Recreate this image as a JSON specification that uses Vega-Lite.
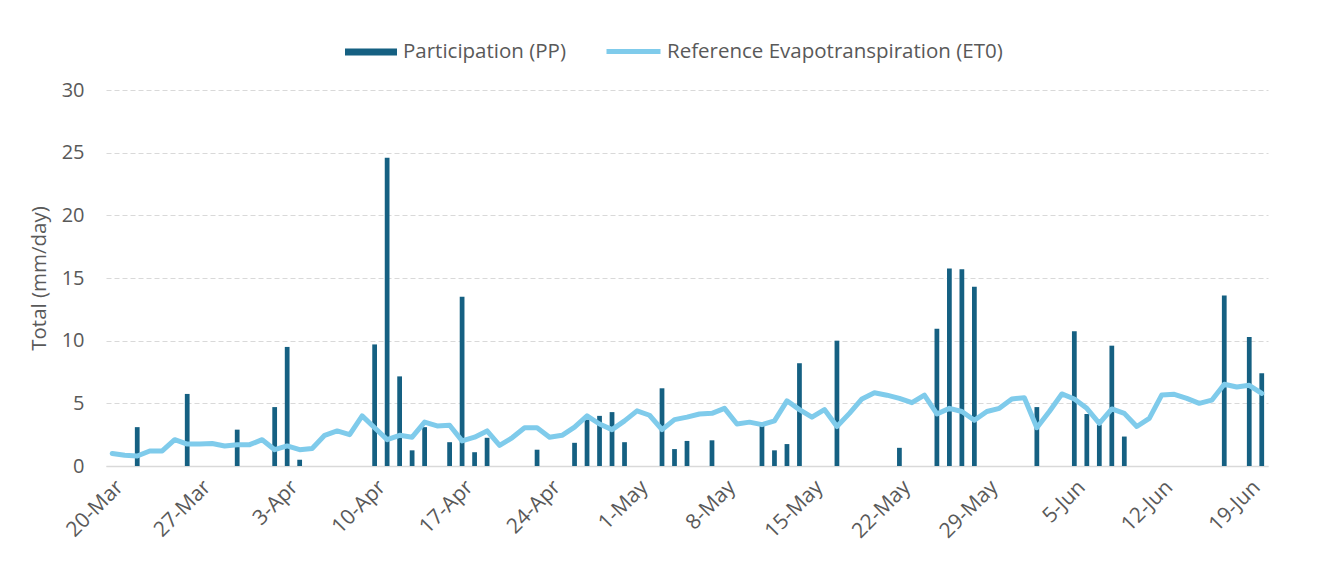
{
  "$schema": "https://vega.github.io/schema/vega-lite/v6.json",
  "width": 1162,
  "height": 376,
  "autosize": {"type": "none"},
  "padding": {"left": 106, "top": 90, "right": 62, "bottom": 102},
  "background": "white",
  "config": {
    "font": "Open Sans",
    "view": {"stroke": null},
    "axis": {"labelColor": "#595959", "titleColor": "#595959", "labelFont": "Open Sans", "titleFont": "Open Sans"},
    "legend": {"labelColor": "#595959", "labelFont": "Open Sans", "labelFontSize": 20.5, "padding": 0, "labelLimit": 0}
  },
  "data": {"values": [
    {"date": "20-Mar", "pp": 0, "et0": 1.0},
    {"date": "21-Mar", "pp": 0, "et0": 0.85},
    {"date": "22-Mar", "pp": 3.1, "et0": 0.8},
    {"date": "23-Mar", "pp": 0, "et0": 1.2},
    {"date": "24-Mar", "pp": 0, "et0": 1.2},
    {"date": "25-Mar", "pp": 0, "et0": 2.1},
    {"date": "26-Mar", "pp": 5.75, "et0": 1.75},
    {"date": "27-Mar", "pp": 0, "et0": 1.75},
    {"date": "28-Mar", "pp": 0, "et0": 1.8},
    {"date": "29-Mar", "pp": 0, "et0": 1.6},
    {"date": "30-Mar", "pp": 2.9, "et0": 1.7},
    {"date": "31-Mar", "pp": 0, "et0": 1.7},
    {"date": "1-Apr", "pp": 0, "et0": 2.1},
    {"date": "2-Apr", "pp": 4.7, "et0": 1.3},
    {"date": "3-Apr", "pp": 9.5, "et0": 1.6},
    {"date": "4-Apr", "pp": 0.5, "et0": 1.3},
    {"date": "5-Apr", "pp": 0, "et0": 1.4},
    {"date": "6-Apr", "pp": 0, "et0": 2.45},
    {"date": "7-Apr", "pp": 0, "et0": 2.8},
    {"date": "8-Apr", "pp": 0, "et0": 2.5},
    {"date": "9-Apr", "pp": 0, "et0": 4.0},
    {"date": "10-Apr", "pp": 9.7, "et0": 3.05},
    {"date": "11-Apr", "pp": 24.6, "et0": 2.1},
    {"date": "12-Apr", "pp": 7.15, "et0": 2.45},
    {"date": "13-Apr", "pp": 1.25, "et0": 2.3},
    {"date": "14-Apr", "pp": 3.1, "et0": 3.5},
    {"date": "15-Apr", "pp": 0, "et0": 3.2},
    {"date": "16-Apr", "pp": 1.9, "et0": 3.25},
    {"date": "17-Apr", "pp": 13.5, "et0": 2.0},
    {"date": "18-Apr", "pp": 1.1, "et0": 2.3},
    {"date": "19-Apr", "pp": 2.25, "et0": 2.8},
    {"date": "20-Apr", "pp": 0, "et0": 1.65},
    {"date": "21-Apr", "pp": 0, "et0": 2.25},
    {"date": "22-Apr", "pp": 0, "et0": 3.05},
    {"date": "23-Apr", "pp": 1.3, "et0": 3.05},
    {"date": "24-Apr", "pp": 0, "et0": 2.3},
    {"date": "25-Apr", "pp": 0, "et0": 2.45},
    {"date": "26-Apr", "pp": 1.85, "et0": 3.1},
    {"date": "27-Apr", "pp": 3.7, "et0": 4.0},
    {"date": "28-Apr", "pp": 4.0, "et0": 3.35},
    {"date": "29-Apr", "pp": 4.3, "et0": 2.9},
    {"date": "30-Apr", "pp": 1.9, "et0": 3.6},
    {"date": "1-May", "pp": 0, "et0": 4.4},
    {"date": "2-May", "pp": 0, "et0": 4.05},
    {"date": "3-May", "pp": 6.2, "et0": 2.9},
    {"date": "4-May", "pp": 1.35, "et0": 3.7},
    {"date": "5-May", "pp": 2.0, "et0": 3.9},
    {"date": "6-May", "pp": 0, "et0": 4.15},
    {"date": "7-May", "pp": 2.05, "et0": 4.2},
    {"date": "8-May", "pp": 0, "et0": 4.6},
    {"date": "9-May", "pp": 0, "et0": 3.35},
    {"date": "10-May", "pp": 0, "et0": 3.5},
    {"date": "11-May", "pp": 3.2, "et0": 3.3},
    {"date": "12-May", "pp": 1.25, "et0": 3.6},
    {"date": "13-May", "pp": 1.75, "et0": 5.2},
    {"date": "14-May", "pp": 8.2, "et0": 4.5},
    {"date": "15-May", "pp": 0, "et0": 3.9},
    {"date": "16-May", "pp": 0, "et0": 4.5},
    {"date": "17-May", "pp": 10.0, "et0": 3.15},
    {"date": "18-May", "pp": 0, "et0": 4.2},
    {"date": "19-May", "pp": 0, "et0": 5.35},
    {"date": "20-May", "pp": 0, "et0": 5.85},
    {"date": "21-May", "pp": 0, "et0": 5.65},
    {"date": "22-May", "pp": 1.45, "et0": 5.4},
    {"date": "23-May", "pp": 0, "et0": 5.05},
    {"date": "24-May", "pp": 0, "et0": 5.65},
    {"date": "25-May", "pp": 10.95, "et0": 4.15},
    {"date": "26-May", "pp": 15.75, "et0": 4.6},
    {"date": "27-May", "pp": 15.7, "et0": 4.35},
    {"date": "28-May", "pp": 14.3, "et0": 3.65},
    {"date": "29-May", "pp": 0, "et0": 4.35},
    {"date": "30-May", "pp": 0, "et0": 4.6},
    {"date": "31-May", "pp": 0, "et0": 5.35},
    {"date": "1-Jun", "pp": 0, "et0": 5.45},
    {"date": "2-Jun", "pp": 4.7, "et0": 3.05},
    {"date": "3-Jun", "pp": 0, "et0": 4.35},
    {"date": "4-Jun", "pp": 0, "et0": 5.75},
    {"date": "5-Jun", "pp": 10.75, "et0": 5.35},
    {"date": "6-Jun", "pp": 4.15, "et0": 4.6},
    {"date": "7-Jun", "pp": 3.3, "et0": 3.4},
    {"date": "8-Jun", "pp": 9.6, "et0": 4.55},
    {"date": "9-Jun", "pp": 2.35, "et0": 4.2},
    {"date": "10-Jun", "pp": 0, "et0": 3.15},
    {"date": "11-Jun", "pp": 0, "et0": 3.8},
    {"date": "12-Jun", "pp": 0, "et0": 5.67},
    {"date": "13-Jun", "pp": 0, "et0": 5.72},
    {"date": "14-Jun", "pp": 0, "et0": 5.4},
    {"date": "15-Jun", "pp": 0, "et0": 5.0},
    {"date": "16-Jun", "pp": 0, "et0": 5.25},
    {"date": "17-Jun", "pp": 13.6, "et0": 6.52},
    {"date": "18-Jun", "pp": 0, "et0": 6.3},
    {"date": "19-Jun", "pp": 10.3, "et0": 6.44},
    {"date": "20-Jun", "pp": 7.4, "et0": 5.8}
  ]},
  "encoding": {
    "x": {
      "field": "date",
      "type": "ordinal",
      "sort": null,
      "scale": {"paddingInner": 0.62, "paddingOuter": 0.31},
      "axis": {
        "title": null,
        "values": ["20-Mar", "27-Mar", "3-Apr", "10-Apr", "17-Apr", "24-Apr", "1-May", "8-May", "15-May", "22-May", "29-May", "5-Jun", "12-Jun", "19-Jun"],
        "labelAngle": -45,
        "labelFontSize": 21,
        "labelPadding": 10,
        "ticks": false,
        "grid": false,
        "domain": true,
        "domainColor": "#d9d9d9",
        "domainWidth": 1.5
      }
    }
  },
  "layer": [
    {
      "mark": {"type": "bar"},
      "encoding": {
        "y": {
          "field": "pp",
          "type": "quantitative",
          "scale": {"domain": [0, 30]},
          "axis": {
            "title": "Total (mm/day)",
            "titleFontSize": 20.5,
            "titleFontWeight": "normal",
            "titlePadding": 12,
            "values": [0, 5, 10, 15, 20, 25, 30],
            "labelFontSize": 20,
            "labelPadding": 22,
            "ticks": false,
            "domain": false,
            "grid": true,
            "gridColor": "#d9d9d9",
            "gridDash": [5, 3],
            "gridWidth": 1
          }
        },
        "fill": {
          "datum": "Participation (PP)",
          "type": "nominal",
          "scale": {"range": ["#156082"]},
          "legend": {
            "title": null,
            "orient": "none",
            "legendX": 239,
            "legendY": -64,
            "symbolType": "M-1,-0.135H1V0.135H-1Z",
            "symbolSize": 2704,
            "symbolStrokeWidth": 0,
            "labelOffset": 6,
            "labelFontSize": 20.5
          }
        }
      }
    },
    {
      "mark": {"type": "line", "strokeWidth": 5, "strokeJoin": "round", "strokeCap": "round"},
      "encoding": {
        "y": {"field": "et0", "type": "quantitative"},
        "stroke": {
          "datum": "Reference Evapotranspiration (ET0)",
          "type": "nominal",
          "scale": {"range": ["#7FCBEB"]},
          "legend": {
            "title": null,
            "orient": "none",
            "legendX": 498,
            "legendY": -68,
            "symbolType": "stroke",
            "symbolSize": 2916,
            "symbolStrokeWidth": 5,
            "labelOffset": 4,
            "labelFontSize": 20.5
          }
        }
      }
    }
  ]
}
